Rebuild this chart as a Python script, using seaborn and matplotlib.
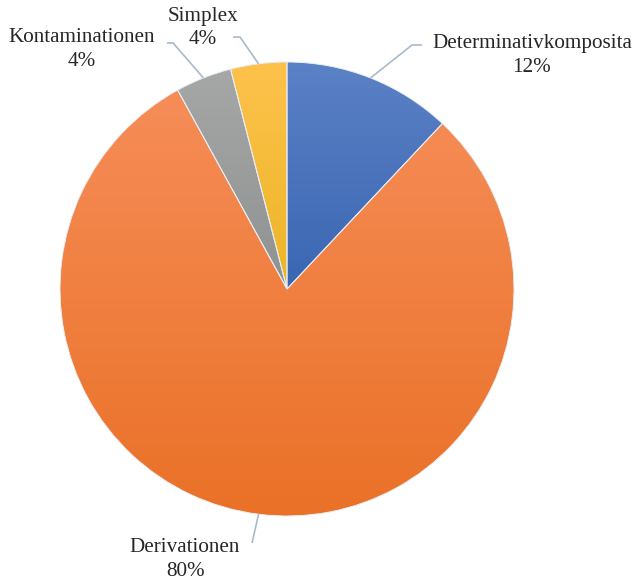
import numpy as np
import matplotlib
matplotlib.use("Agg")
import matplotlib.pyplot as plt
import seaborn as sns

# Word-formation types and their shares (percent)
categories = ["Determinativkomposita", "Derivationen", "Kontaminationen", "Simplex"]
shares = [12, 80, 4, 4]

# Top / bottom colours of each slice's vertical gradient
top_colors = ["#5B81C6", "#F68D58", "#A6A7A7", "#FEC24C"]
bottom_colors = ["#3A66B2", "#EA7127", "#8F9292", "#EBB526"]

# Label block centres and leader-line elbows (axes data units, pie radius = 1)
label_pos = {
    "Determinativkomposita": (1.079, 1.029),
    "Derivationen": (-0.449, -1.192),
    "Kontaminationen": (-0.903, 1.055),
    "Simplex": (-0.370, 1.150),
}
elbow_pos = {
    "Determinativkomposita": ((0.551, 1.075), (0.595, 1.075)),
    "Derivationen": ((-0.154, -1.119), (-0.154, -1.119)),
    "Kontaminationen": ((-0.502, 1.084), (-0.529, 1.084)),
    "Simplex": ((-0.207, 1.110), (-0.238, 1.110)),
}

sns.set_theme(style="white")
plt.rcParams["font.family"] = ["Liberation Serif", "DejaVu Serif"]

W, H, DPI = 635, 583, 100
fig = plt.figure(figsize=(W / DPI, H / DPI), dpi=DPI)
ax = fig.add_axes([0, 0, 1, 1])

cx_px, cy_px, r_px = 287, 289, 227
xlim = (-cx_px / r_px, (W - cx_px) / r_px)
ylim = (-(H - cy_px) / r_px, cy_px / r_px)

wedges, _ = ax.pie(
    shares,
    colors=top_colors,
    startangle=90,
    counterclock=False,
    radius=1.0,
    wedgeprops=dict(edgecolor="#E8EEF4", linewidth=0.7),
)

# Vertical gradient fill clipped to each wedge
for w, c_top, c_bot in zip(wedges, top_colors, bottom_colors):
    ext = w.get_path().get_extents()
    grad = np.array(sns.blend_palette([c_top, c_bot], n_colors=256))
    img = grad[:, None, :]
    im = ax.imshow(
        img,
        extent=(ext.x0, ext.x1, ext.y0, ext.y1),
        origin="upper",
        aspect="auto",
        zorder=w.get_zorder() + 0.1,
        interpolation="bilinear",
    )
    im.set_clip_path(w)

# Thin separators on top of the gradients
for w in wedges:
    w.set_facecolor("none")
    w.set_zorder(5)

line_color = "#A9BACB"
text_color = "#262626"
for w, name, val in zip(wedges, categories, shares):
    mid = np.deg2rad((w.theta1 + w.theta2) / 2)
    edge = (np.cos(mid), np.sin(mid))
    (ex, ey), (tx, ty) = elbow_pos[name]
    ax.plot([edge[0], ex, tx], [edge[1], ey, ty], color=line_color, lw=1.2,
            solid_capstyle="butt", zorder=6)
    lx, ly = label_pos[name]
    ax.text(lx, ly, f"{name}\n{val}%", ha="center", va="center",
            fontsize=15.2, color=text_color, linespacing=1.32, zorder=7)

ax.set_xlim(*xlim)
ax.set_ylim(*ylim)
ax.set_aspect("equal")
ax.axis("off")

fig.savefig("out.png", dpi=DPI, facecolor="white")
